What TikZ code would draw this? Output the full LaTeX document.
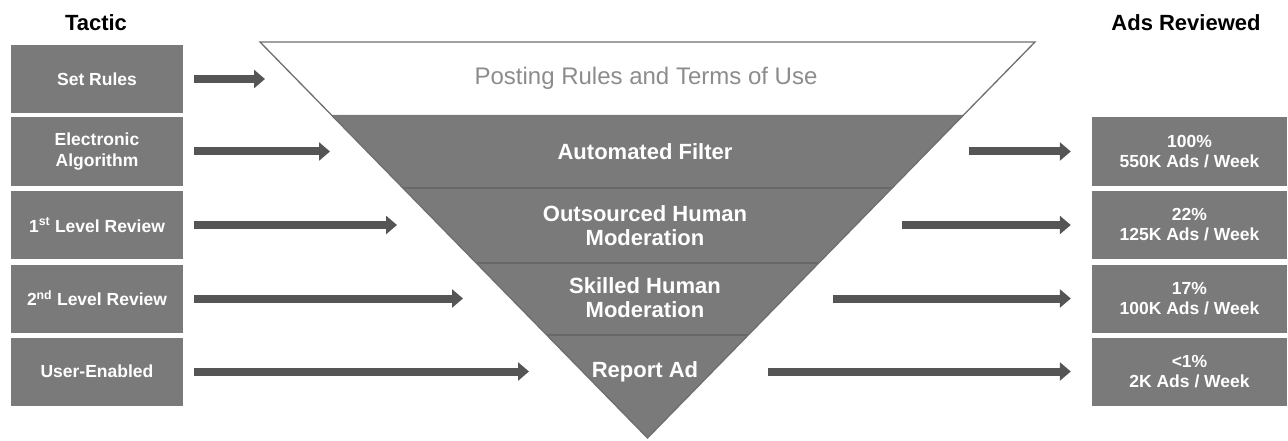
\documentclass[tikz,border=0pt]{standalone}
\usepackage{fontspec}
\setmainfont{Liberation Sans}
\usetikzlibrary{arrows.meta,calc}
\definecolor{boxgray}{HTML}{7A7A7A}
\definecolor{arrowgray}{HTML}{555555}
\definecolor{sepgray}{HTML}{686868}
\definecolor{rulegray}{HTML}{8C8C8C}
\definecolor{edgegray}{HTML}{6E6E6E}
\begin{document}
\begin{tikzpicture}[x=1pt,y=-1pt,
  tacticbox/.style={fill=boxgray, minimum width=172pt, minimum height=68pt, inner sep=0pt, text=white, font=\fontsize{17.5}{21}\selectfont\bfseries, align=center},
  reviewbox/.style={fill=boxgray, minimum width=195pt, minimum height=68pt, inner sep=0pt, text=white, font=\fontsize{17.5}{20}\selectfont\bfseries, align=center},
  bandlabel/.style={text=white, font=\fontsize{22}{24}\selectfont\bfseries, align=center},
  rulelabel/.style={text=rulegray, font=\fontsize{24}{25}\selectfont},
  header/.style={font=\fontsize{22}{24}\selectfont\bfseries},
  blockarrow/.style={draw=arrowgray, line width=8pt, -{Triangle[length=11pt,width=18pt]}},
  bandline/.style={draw=sepgray, line width=2pt},
  funneledge/.style={draw=edgegray, line width=1.3pt, line join=miter}
]
\useasboundingbox (0,0) rectangle (1288,441);

% headers
\node[header] (tactic) at (96,23) {Tactic};
\node[header] (adsrev) at (1186,23) {Ads Reviewed};

% funnel
\coordinate (TL) at (260,42);
\coordinate (TR) at (1035,42);
\coordinate (AP) at (647.5,438);
\fill[boxgray] ($(TL)!0.1843!(AP)$) -- ($(TR)!0.1843!(AP)$) -- (AP) -- cycle;
\draw[bandline] ($(TL)!0.3687!(AP)$) -- ($(TR)!0.3687!(AP)$);
\draw[bandline] ($(TL)!0.5581!(AP)$) -- ($(TR)!0.5581!(AP)$);
\draw[bandline] ($(TL)!0.7399!(AP)$) -- ($(TR)!0.7399!(AP)$);
\draw[funneledge] (TL) -- (TR) -- (AP) -- cycle;

\node[rulelabel] (rules) at (646,78) {Posting Rules and Terms of Use};
\node[bandlabel] (filter) at (645,152) {Automated Filter};
\node[bandlabel] (outs) at (645,226) {Outsourced Human\\Moderation};
\node[bandlabel] (skill) at (645,298) {Skilled Human\\Moderation};
\node[bandlabel] (report) at (645,372) {Report Ad};

% tactic boxes
\node[tacticbox] (t1) at (97,79) {Set Rules};
\node[tacticbox] (t2) at (97,151.5) {Electronic\\Algorithm};
\node[tacticbox] (t3) at (97,225) {1\textsuperscript{st} Level Review};
\node[tacticbox] (t4) at (97,298.5) {2\textsuperscript{nd} Level Review};
\node[tacticbox] (t5) at (97,371.5) {User-Enabled};

% review boxes
\node[reviewbox] (r1) at (1189.5,151.5) {100\%\\550K Ads / Week};
\node[reviewbox] (r2) at (1189.5,225) {22\%\\125K Ads / Week};
\node[reviewbox] (r3) at (1189.5,298.5) {17\%\\100K Ads / Week};
\node[reviewbox] (r4) at (1189.5,371.5) {<1\%\\2K Ads / Week};

% arrow end points
\coordinate (tip1) at (265,79);
\coordinate (tip2) at (330,151.5);
\coordinate (tip3) at (397,225);
\coordinate (tip4) at (463,298.5);
\coordinate (tip5) at (529,371.5);
\coordinate (src1) at (969,151.5);
\coordinate (src2) at (902,225);
\coordinate (src3) at (833,298.5);
\coordinate (src4) at (768,371.5);

% left arrows
\draw[blockarrow] ([xshift=11pt]t1.east) -- (tip1);
\draw[blockarrow] ([xshift=11pt]t2.east) -- (tip2);
\draw[blockarrow] ([xshift=11pt]t3.east) -- (tip3);
\draw[blockarrow] ([xshift=11pt]t4.east) -- (tip4);
\draw[blockarrow] ([xshift=11pt]t5.east) -- (tip5);

% right arrows
\draw[blockarrow] (src1) -- ([xshift=-21pt]r1.west);
\draw[blockarrow] (src2) -- ([xshift=-21pt]r2.west);
\draw[blockarrow] (src3) -- ([xshift=-21pt]r3.west);
\draw[blockarrow] (src4) -- ([xshift=-21pt]r4.west);
\end{tikzpicture}
\end{document}
